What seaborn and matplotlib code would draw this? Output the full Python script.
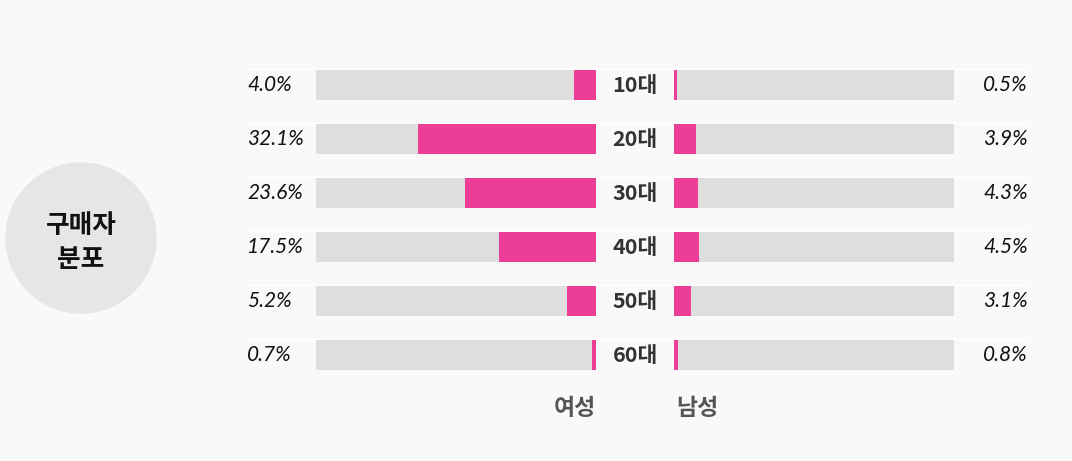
import numpy as np
import pandas as pd
import seaborn as sns
import matplotlib.pyplot as plt
from matplotlib.patches import Circle
from matplotlib.transforms import blended_transform_factory

ages = ['10대', '20대', '30대', '40대', '50대', '60대']
female = [4.0, 32.1, 23.6, 17.5, 5.2, 0.7]
male = [0.5, 3.9, 4.3, 4.5, 3.1, 0.8]
female_labels = ['4.0%', '32.1%', '23.6%', '17.5%', '5.2%', '0.7%']
male_labels = ['0.5%', '3.9%', '4.3%', '4.5%', '3.1%', '0.8%']
scale_max = 50.5

bg = '#f9f9f9'
pink = '#ec3e96'
track = '#dedede'
kr = ['Noto Sans CJK KR', 'DejaVu Sans']

sns.set_theme(style='white')
plt.rcParams['font.family'] = kr

df = pd.DataFrame({'age': ages, 'female': female, 'male': male,
                   'full': [scale_max] * len(ages)})

W, H = 1072, 461
fig = plt.figure(figsize=(W / 100, H / 100), dpi=100)
fig.patch.set_facecolor(bg)

# background axes in pixel coordinates for circle
bgax = fig.add_axes([0, 0, 1, 1])
bgax.set_xlim(0, W)
bgax.set_ylim(H, 0)
bgax.axis('off')
bgax.add_patch(Circle((81, 238), 75, color='#e6e6e6', zorder=0))
bgax.text(81, 225, '구매자', ha='center', va='center', fontsize=18.5,
          fontweight='bold', color='#111111')
bgax.text(81, 259, '분포', ha='center', va='center', fontsize=18.5,
          fontweight='bold', color='#111111')

bottom = (H - 382) / H
height = 324 / H
bw = 30 / 54

axL = fig.add_axes([316 / W, bottom, 280 / W, height])
axR = fig.add_axes([674 / W, bottom, 280 / W, height])

for ax, col in [(axL, 'female'), (axR, 'male')]:
    ax.set_facecolor('none')
    sns.barplot(data=df, x='full', y='age', color=track, width=bw,
                saturation=1, linewidth=0, ax=ax, orient='h')
    sns.barplot(data=df, x=col, y='age', color=pink, width=bw,
                saturation=1, linewidth=0, ax=ax, orient='h')
    ax.set_xlim(0, scale_max)
    ax.set_ylim(len(ages) - 0.5, -0.5)
    ax.set_xlabel('')
    ax.set_ylabel('')
    ax.set_xticks([])
    ax.set_yticks([])
    sns.despine(ax=ax, left=True, bottom=True)

axL.set_xlim(scale_max, 0)

tr = blended_transform_factory(fig.transFigure, axL.transData)
for i, age in enumerate(ages):
    # faint separator line above each row
    axL.plot([247 / W, 1026 / W], [i - 0.3, i - 0.3], color='white', lw=1,
             transform=tr, clip_on=False, zorder=0)
    axL.text(247 / W, i, female_labels[i], transform=tr, ha='left',
             va='center', fontsize=15, style='italic',
             family=['Lato', 'DejaVu Sans'], color='#111111')
    axL.text(1028 / W, i, male_labels[i], transform=tr, ha='right',
             va='center', fontsize=15, style='italic',
             family=['Lato', 'DejaVu Sans'], color='#111111')
    axL.text(635 / W, i, age, transform=tr, ha='center', va='center',
             fontsize=15.5, fontweight='bold', color='#333333')

bgax.text(596, 408, '여성', ha='right', va='center', fontsize=16.5,
          fontweight='bold', color='#555555')
bgax.text(676, 408, '남성', ha='left', va='center', fontsize=16.5,
          fontweight='bold', color='#555555')

fig.savefig('out.png', dpi=100, facecolor=bg)
